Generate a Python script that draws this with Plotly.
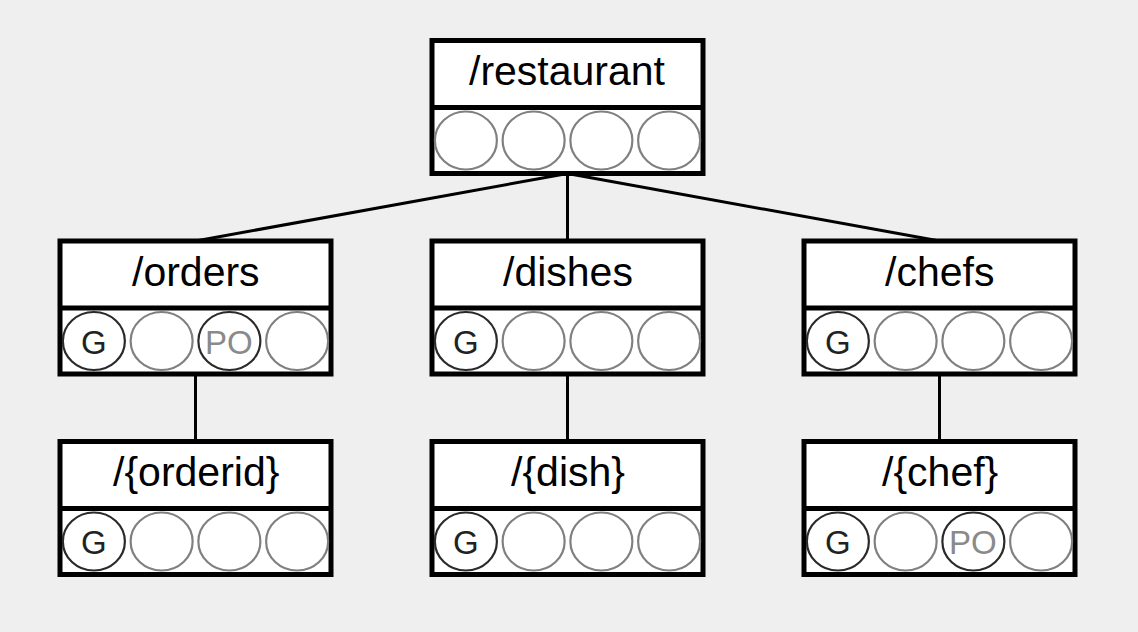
import plotly.graph_objects as go

# resource tree
paths = ["/restaurant", "/orders", "/dishes", "/chefs", "/{orderid}", "/{dish}", "/{chef}"]
parents = [None, 0, 0, 0, 1, 2, 3]
rows = [0, 1, 1, 1, 2, 2, 2]
cols = [1, 0, 1, 2, 0, 1, 2]
methods = [
    ["", "", "", ""],
    ["G", "", "PO", ""],
    ["G", "", "", ""],
    ["G", "", "", ""],
    ["G", "", "", ""],
    ["G", "", "", ""],
    ["G", "", "PO", ""],
]

W, H = 1138, 632
box_w, box_h, head_h = 271, 133, 67
col0, col_step = 195.5, 372
row0, row_step = 40.5, 200.5
ell_w, ell_h = 62, 58

method_text = {"G": "#222222", "PO": "#8a8a8a"}


def box_pos(n):
    cx = col0 + cols[n] * col_step
    top = row0 + rows[n] * row_step
    return cx, top


fig = go.Figure()
shapes = []
annotations = []

# connectors first so boxes sit on top
for n, p in enumerate(parents):
    if p is None:
        continue
    px, ptop = box_pos(p)
    cx, ctop = box_pos(n)
    shapes.append(dict(type="line", x0=px, y0=ptop + box_h, x1=cx, y1=ctop,
                       line=dict(color="black", width=3)))

for n, name in enumerate(paths):
    cx, top = box_pos(n)
    left = cx - box_w / 2
    shapes.append(dict(type="rect", x0=left, x1=left + box_w, y0=top, y1=top + box_h,
                       fillcolor="white", line=dict(color="black", width=5)))
    annotations.append(dict(x=cx, y=top + head_h / 2 - 3, text=name, showarrow=False,
                            font=dict(family="Liberation Sans, Arial", size=41, color="black"),
                            xanchor="center", yanchor="middle"))
    slot = box_w / 4
    mid_y = top + head_h + (box_h - head_h) / 2
    for i, m in enumerate(methods[n]):
        ex = left + (i + 0.5) * slot
        shapes.append(dict(type="circle", x0=ex - ell_w / 2, x1=ex + ell_w / 2,
                           y0=mid_y - ell_h / 2, y1=mid_y + ell_h / 2,
                           line=dict(color="#2a2a2a" if m else "#808080", width=2.2)))
        if m:
            annotations.append(dict(x=ex, y=mid_y + 1, text=m, showarrow=False,
                                    font=dict(family="Liberation Sans, Arial", size=33,
                                              color=method_text[m]),
                                    xanchor="center", yanchor="middle"))
    shapes.append(dict(type="line", x0=left, x1=left + box_w, y0=top + head_h, y1=top + head_h,
                       line=dict(color="black", width=5)))

fig.add_trace(go.Scatter(x=[0, W], y=[0, H], mode="markers", marker=dict(opacity=0),
                         hoverinfo="skip", showlegend=False))

fig.update_layout(
    width=W, height=H,
    margin=dict(l=0, r=0, t=0, b=0),
    paper_bgcolor="#efefef", plot_bgcolor="#efefef",
    shapes=shapes, annotations=annotations,
    xaxis=dict(range=[0, W], visible=False, fixedrange=True),
    yaxis=dict(range=[H, 0], visible=False, fixedrange=True),
    showlegend=False,
)

# drop the page margin so the figure fills the window
fig.write_html("out.html", config=dict(displayModeBar=False),
               post_script="document.body.style.margin='0';document.body.style.background='#efefef';")
